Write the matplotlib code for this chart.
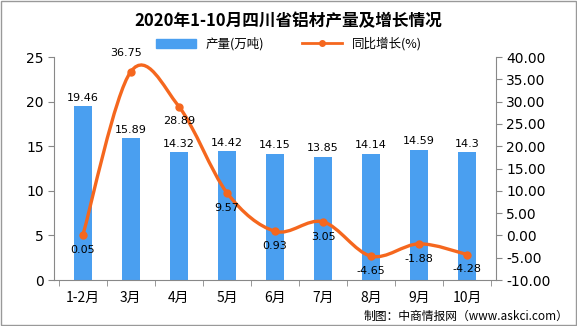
import numpy as np
import matplotlib
matplotlib.use('Agg')
import matplotlib.pyplot as plt
from matplotlib.path import Path
from matplotlib.patches import PathPatch, Rectangle
from matplotlib.lines import Line2D

plt.rcParams['font.family'] = ['Noto Sans CJK SC', 'DejaVu Sans']

months = ['1-2月', '3月', '4月', '5月', '6月', '7月', '8月', '9月', '10月']
output = [19.46, 15.89, 14.32, 14.42, 14.15, 13.85, 14.14, 14.59, 14.3]
growth = [0.05, 36.75, 28.89, 9.57, 0.93, 3.05, -4.65, -1.88, -4.28]
output_labels = ['19.46', '15.89', '14.32', '14.42', '14.15', '13.85', '14.14', '14.59', '14.3']
growth_labels = ['0.05', '36.75', '28.89', '9.57', '0.93', '3.05', '-4.65', '-1.88', '-4.28']

bar_color = '#4a9ff0'
line_color = '#f5671e'
axis_color = '#888888'

fig = plt.figure(figsize=(5.77, 3.26), dpi=100)
ax = fig.add_axes([0.0936, 0.141, 0.7660, 0.684])
ax2 = ax.twinx()

x = np.arange(len(months))
ax.bar(x, output, width=0.38, color=bar_color, zorder=2)
ax.set_xlim(-0.6, len(months) - 0.4)
ax.set_ylim(0, 25)
ax.set_yticks(range(0, 26, 5))
ax2.set_ylim(-10, 40)
ax2.set_yticks(range(-10, 41, 5))
ax2.set_yticklabels(['%.2f' % v for v in range(-10, 41, 5)])

# smooth curve through the points (cubic bezier segments)
pts = np.column_stack([x, growth]).astype(float)
verts = [pts[0]]
codes = [Path.MOVETO]
for i in range(len(pts) - 1):
    p0 = pts[i - 1] if i > 0 else pts[i]
    p1, p2 = pts[i], pts[i + 1]
    p3 = pts[i + 2] if i + 2 < len(pts) else pts[i + 1]
    c1 = p1 + (p2 - p0) / 6.0
    c2 = p2 - (p3 - p1) / 6.0
    verts += [c1, c2, p2]
    codes += [Path.CURVE4] * 3
ax2.add_patch(PathPatch(Path(verts, codes), facecolor='none', edgecolor=line_color,
                        lw=2.4, zorder=3))
ax2.plot(x, growth, 'o', color=line_color, ms=5, zorder=4)

for xi, v, s in zip(x, output, output_labels):
    ax.text(xi, v + 0.4, s, ha='center', va='bottom', fontsize=8, family='DejaVu Sans')
for i, (xi, v, s) in enumerate(zip(x, growth, growth_labels)):
    if i == 1:
        ax2.text(xi - 0.1, v + 3.0, s, ha='center', va='bottom', fontsize=8, family='DejaVu Sans')
    else:
        ax2.text(xi, v - 2.2, s, ha='center', va='top', fontsize=8, family='DejaVu Sans')

for a in (ax, ax2):
    for side in ('top', 'left', 'right', 'bottom'):
        a.spines[side].set_visible(False)
ax.spines['left'].set_visible(True)
ax.spines['left'].set_color(axis_color)
ax.spines['bottom'].set_visible(True)
ax.spines['bottom'].set_color(axis_color)
ax2.spines['right'].set_visible(True)
ax2.spines['right'].set_color(axis_color)

ax.set_xticks(x)
ax.set_xticklabels(months, fontsize=10)
ax.set_xticks(np.arange(-0.5, len(months), 1), minor=True)
ax.tick_params(axis='x', which='major', length=0, pad=8)
ax.tick_params(axis='x', which='minor', length=4, color=axis_color)
ax.tick_params(axis='y', length=4, color=axis_color, labelsize=10)
ax2.tick_params(axis='y', length=4, color=axis_color, labelsize=10)
for lab in ax.get_yticklabels() + ax2.get_yticklabels():
    lab.set_family('DejaVu Sans')

fig.text(0.5, 0.935, '2020年1-10月四川省铝材产量及增长情况', ha='center', va='center',
         fontsize=12, fontweight='bold')
handles = [Rectangle((0, 0), 1, 1, color=bar_color),
           Line2D([0], [0], color=line_color, lw=2, marker='o', ms=4)]
fig.legend(handles, ['产量(万吨)', '同比增长(%)'], loc='center', bbox_to_anchor=(0.5, 0.865),
           ncol=2, frameon=False, fontsize=9, handlelength=3.2, columnspacing=3)
fig.text(0.985, 0.03, '制图：中商情报网（www.askci.com）', ha='right', va='center', fontsize=8.5)

fig.patches.append(Rectangle((0.001, 0.002), 0.997, 0.995, transform=fig.transFigure,
                             fill=False, edgecolor='#999999', lw=1))

fig.savefig('out.png', dpi=100)
